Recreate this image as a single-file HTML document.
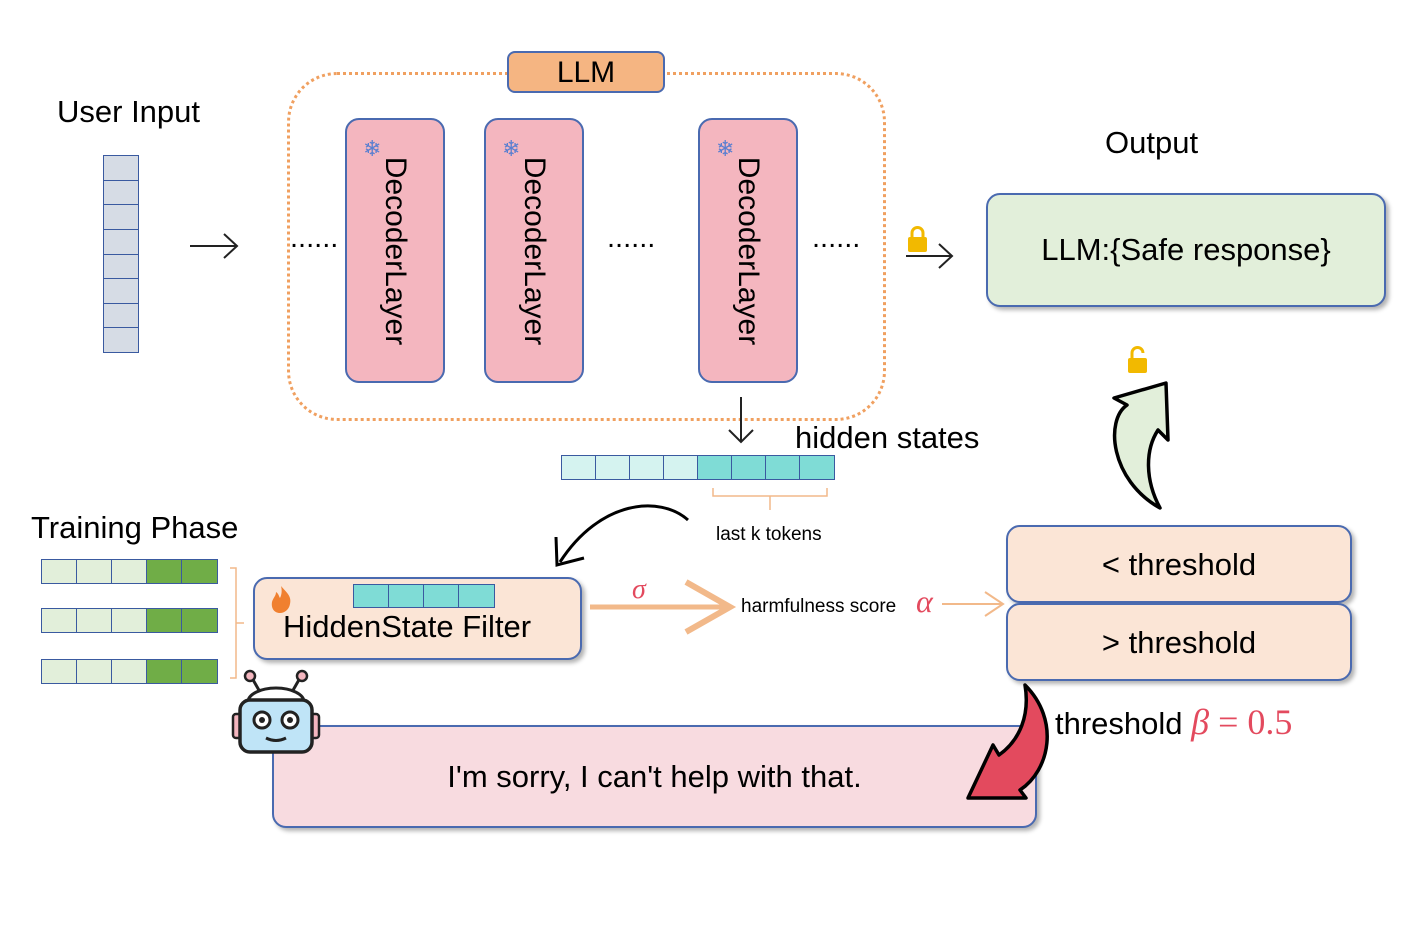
<!DOCTYPE html>
<html><head><meta charset="utf-8"><style>
body{margin:0;width:1417px;height:939px;background:#fff;position:relative;overflow:hidden;font-family:"Liberation Sans",sans-serif;}
.a{position:absolute;}
.dl{position:absolute;top:118px;width:96px;height:261px;background:#f4b6bf;border:2px solid #4a6ab0;border-radius:14px;}
.dl span{position:absolute;left:50%;top:50%;transform:translate(-50%,-50%) rotate(90deg);font-size:30px;white-space:nowrap;}
.dl i{position:absolute;left:16px;top:16px;color:#5a7fd0;font-style:normal;font-size:22px;}
.t{position:absolute;white-space:nowrap;color:#000;}
.row{position:absolute;display:flex;border:1.5px solid #3a5aa0;}
.row div{border-right:1.5px solid #3a5aa0;box-sizing:border-box;}
.row div:last-child{border-right:none;}
.box{position:absolute;border:2px solid #4a6ab0;border-radius:14px;box-shadow:3px 3px 4px rgba(0,0,0,.3);box-sizing:border-box;}
</style></head><body>
<div class="a" style="left:287px;top:72px;width:599px;height:349px;border:3px dotted #f0a060;border-radius:50px;box-sizing:border-box;"></div>
<div class="a" style="left:507px;top:51px;width:158px;height:42px;background:#f5b582;border:2px solid #4a6ab0;border-radius:8px;box-sizing:border-box;text-align:center;font-size:30px;line-height:40px;">LLM</div>
<div class="dl" style="left:345px"><i>❄</i><span>DecoderLayer</span></div>
<div class="dl" style="left:484px"><i>❄</i><span>DecoderLayer</span></div>
<div class="dl" style="left:698px"><i>❄</i><span>DecoderLayer</span></div>
<div class="t" style="left:290px;top:222px;font-size:29px;">......</div>
<div class="t" style="left:607px;top:222px;font-size:29px;">......</div>
<div class="t" style="left:812px;top:222px;font-size:29px;">......</div>

<div class="t" style="left:57px;top:94px;font-size:31px;">User Input</div>
<div class="a" style="left:103px;top:155px;width:36px;height:198px;display:flex;flex-direction:column;border:1.5px solid #3a5aa0;box-sizing:border-box;background:#d6dce5;">
<div style="flex:1;border-bottom:1.5px solid #3a5aa0"></div><div style="flex:1;border-bottom:1.5px solid #3a5aa0"></div><div style="flex:1;border-bottom:1.5px solid #3a5aa0"></div><div style="flex:1;border-bottom:1.5px solid #3a5aa0"></div><div style="flex:1;border-bottom:1.5px solid #3a5aa0"></div><div style="flex:1;border-bottom:1.5px solid #3a5aa0"></div><div style="flex:1;border-bottom:1.5px solid #3a5aa0"></div><div style="flex:1"></div></div>

<svg class="a" style="left:0;top:0" width="1417" height="939">
<line x1="190" y1="246" x2="236" y2="246" stroke="#222" stroke-width="2"/><path d="M224,234 L237,246 L224,258" fill="none" stroke="#222" stroke-width="2"/>
<line x1="906" y1="256" x2="951" y2="256" stroke="#222" stroke-width="2"/><path d="M939,244 L952,256 L939,268" fill="none" stroke="#222" stroke-width="2"/>
<rect x="908" y="237" width="19" height="15" rx="2" fill="#f2b900"/><path d="M912,238 v-5 a5.5,5.5 0 0 1 11,0 v5" fill="none" stroke="#f2b900" stroke-width="3"/>
<rect x="1128" y="358" width="19" height="15" rx="2" fill="#f2b900"/><path d="M1132,358 v-5 a5.5,5.5 0 0 1 11,0" fill="none" stroke="#f2b900" stroke-width="3"/>
<line x1="741" y1="397" x2="741" y2="441" stroke="#222" stroke-width="2"/><path d="M729,430 L741,442 L753,430" fill="none" stroke="#222" stroke-width="2"/>
<path d="M713,488 v8 h114 v-8 M770,496 v14" fill="none" stroke="#f2b98a" stroke-width="1.5"/>
<path d="M688,520 C660,495 600,500 560,562" fill="none" stroke="#000" stroke-width="3"/><path d="M556,537 L557,565 L584,558" fill="none" stroke="#000" stroke-width="3"/>
<path d="M230,568 h6 v110 h-6 M236,623 h8" fill="none" stroke="#f2b98a" stroke-width="1.5"/>
<line x1="590" y1="607" x2="728" y2="607" stroke="#f2b98a" stroke-width="5"/><path d="M686,582 L730,607 L686,632" fill="none" stroke="#f2b98a" stroke-width="6"/>
<line x1="942" y1="604" x2="1002" y2="604" stroke="#f2b98a" stroke-width="2"/><path d="M985,592 L1003,604 L985,616" fill="none" stroke="#f2b98a" stroke-width="2"/>
<path d="M1160,508 C1110,480 1105,420 1127,405 L1114,398 L1166,383 L1168,440 L1158,430 C1145,450 1145,480 1160,508 Z" fill="#e2efda" stroke="#000" stroke-width="3.5" stroke-linejoin="round"/>
<path d="M1025,685 C1060,720 1050,770 1020,790 L1026,798 L968,798 L993,745 L999,755 C1020,740 1030,715 1025,685 Z" fill="#e34a5e" stroke="#000" stroke-width="3.5" stroke-linejoin="round"/>
</svg>

<div class="t" style="left:1105px;top:125px;font-size:31px;">Output</div>
<div class="box" style="left:986px;top:193px;width:400px;height:114px;background:#e2efda;text-align:center;line-height:110px;font-size:31px;">LLM:{Safe response}</div>

<div class="t" style="left:795px;top:420px;font-size:31px;">hidden states</div>
<div class="row" style="left:561px;top:455px;height:23px;">
<div style="width:34px;background:#d5f3f0"></div><div style="width:34px;background:#d5f3f0"></div><div style="width:34px;background:#d5f3f0"></div><div style="width:34px;background:#d5f3f0"></div><div style="width:34px;background:#7fdcd6"></div><div style="width:34px;background:#7fdcd6"></div><div style="width:34px;background:#7fdcd6"></div><div style="width:34px;background:#7fdcd6"></div></div>
<div class="t" style="left:716px;top:524px;font-size:19px;">last k tokens</div>

<div class="t" style="left:31px;top:510px;font-size:31px;">Training Phase</div>
<div class="row" style="left:41px;top:559px;height:23px;"><div style="width:35px;background:#e2efda"></div><div style="width:35px;background:#e2efda"></div><div style="width:35px;background:#e2efda"></div><div style="width:35px;background:#70ad47"></div><div style="width:35px;background:#70ad47"></div></div>
<div class="row" style="left:41px;top:608px;height:23px;"><div style="width:35px;background:#e2efda"></div><div style="width:35px;background:#e2efda"></div><div style="width:35px;background:#e2efda"></div><div style="width:35px;background:#70ad47"></div><div style="width:35px;background:#70ad47"></div></div>
<div class="row" style="left:41px;top:659px;height:23px;"><div style="width:35px;background:#e2efda"></div><div style="width:35px;background:#e2efda"></div><div style="width:35px;background:#e2efda"></div><div style="width:35px;background:#70ad47"></div><div style="width:35px;background:#70ad47"></div></div>

<div class="box" style="left:253px;top:577px;width:329px;height:83px;background:#fbe5d6;"></div>
<div class="row" style="left:353px;top:584px;height:22px;"><div style="width:35px;background:#7fdcd6"></div><div style="width:35px;background:#7fdcd6"></div><div style="width:35px;background:#7fdcd6"></div><div style="width:35px;background:#7fdcd6"></div></div>
<svg class="a" style="left:270px;top:586px" width="22" height="28"><path d="M11,0 C16,6 22,10 20,18 C19,24 14,27 10,27 C4,27 1,22 2,16 C3,12 6,10 6,6 C9,8 9,11 10,12 C12,8 12,4 11,0 Z" fill="#f08030"/></svg>
<div class="t" style="left:283px;top:609px;font-size:31px;">HiddenState Filter</div>

<div class="t" style="left:632px;top:574px;font-size:28px;color:#e34a5e;font-family:'Liberation Serif',serif;font-style:italic;">σ</div>
<div class="t" style="left:741px;top:596px;font-size:19px;">harmfulness score</div>
<div class="t" style="left:916px;top:583px;font-size:32px;color:#e34a5e;font-family:'Liberation Serif',serif;font-style:italic;">α</div>

<div class="box" style="left:1006px;top:525px;width:346px;height:78px;background:#fbe5d6;text-align:center;line-height:76px;font-size:31px;">&lt; threshold</div>
<div class="box" style="left:1006px;top:603px;width:346px;height:78px;background:#fbe5d6;text-align:center;line-height:76px;font-size:31px;">&gt; threshold</div>
<div class="t" style="left:1055px;top:701px;font-size:31px;">threshold <span style="color:#e34a5e;font-family:'Liberation Serif',serif;font-size:36px;"><i>β</i>&nbsp;=&nbsp;0.5</span></div>

<div class="box" style="left:272px;top:725px;width:765px;height:103px;background:#f8dbe0;text-align:center;line-height:100px;font-size:31px;z-index:-1;">I'm sorry, I can't help with that.</div>
<svg class="a" style="left:230px;top:668px" width="92" height="94">
<line x1="22" y1="10" x2="30" y2="24" stroke="#222" stroke-width="3"/><line x1="70" y1="10" x2="62" y2="24" stroke="#222" stroke-width="3"/>
<circle cx="20" cy="8" r="5" fill="#f4b6bf" stroke="#222" stroke-width="2.5"/><circle cx="72" cy="8" r="5" fill="#f4b6bf" stroke="#222" stroke-width="2.5"/>
<path d="M18,34 A28,14 0 0 1 74,34" fill="#fff" stroke="#222" stroke-width="3"/>
<rect x="80" y="46" width="9" height="24" rx="3" fill="#f4b6bf" stroke="#222" stroke-width="2.5"/>
<rect x="3" y="46" width="9" height="24" rx="3" fill="#f4b6bf" stroke="#222" stroke-width="2.5"/>
<rect x="10" y="32" width="72" height="52" rx="10" fill="#bfe4f7" stroke="#222" stroke-width="3.5"/>
<circle cx="32" cy="52" r="8" fill="#fff" stroke="#222" stroke-width="3"/><circle cx="32" cy="52" r="3" fill="#222"/>
<circle cx="60" cy="52" r="8" fill="#fff" stroke="#222" stroke-width="3"/><circle cx="60" cy="52" r="3" fill="#222"/>
<path d="M36,70 Q46,75 56,70" fill="none" stroke="#222" stroke-width="3"/>
</svg>
</body></html>
